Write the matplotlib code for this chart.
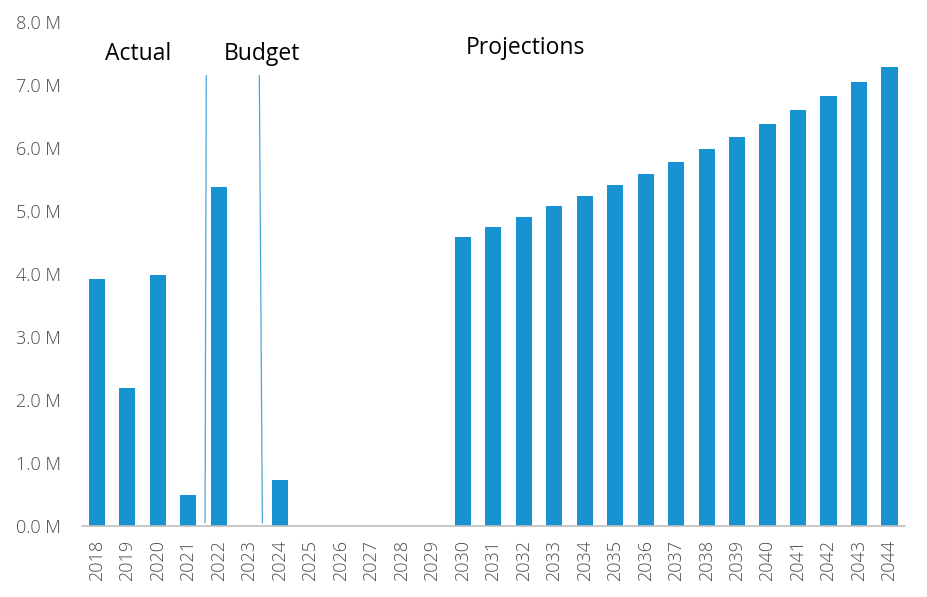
import matplotlib
matplotlib.use("Agg")
import matplotlib.pyplot as plt
from matplotlib.ticker import FuncFormatter

plt.rcParams["font.family"] = ["Open Sans", "DejaVu Sans"]

anos = [str(a) for a in range(2018, 2045)]
valores = [
    3.92, 2.19, 3.98, 0.49, 5.38, 0.0, 0.73,
    0.0, 0.0, 0.0, 0.0, 0.0,
    4.59, 4.75, 4.90, 5.08, 5.24, 5.41, 5.59, 5.78, 5.98,
    6.17, 6.38, 6.60, 6.83, 7.05, 7.29,
]  # milhoes

rotulos = ["Actual", "Budget", "Projections"]
rotulos_x = [1.35, 5.43, 14.05]
rotulos_y = [7.50, 7.50, 7.59]

# divisorias entre periodos (posicao no eixo x, topo e base, em milhoes)
divisorias = [((3.59, 3.55), (7.15, 0.05)), ((5.33, 5.43), (7.15, 0.05))]

AZUL = "#1793d1"
CINZA = "#4a4a4a"

fig = plt.figure(figsize=(9.27, 5.97), dpi=100)
ax = fig.add_axes([0.088, 0.119, 0.888, 0.844])

x = list(range(len(anos)))
ax.bar(x, valores, width=0.53, color=AZUL, zorder=2)

for (xs, ys) in divisorias:
    ax.plot(xs, ys, color="#4aa8dc", linewidth=0.9, zorder=3)

for txt, tx, ty in zip(rotulos, rotulos_x, rotulos_y):
    ax.text(tx, ty, txt, ha="center", va="center", fontsize=16.5, color="black")

ax.set_xlim(-0.5, len(anos) - 0.5)
ax.set_ylim(0, 8)
ax.set_yticks([0, 1, 2, 3, 4, 5, 6, 7, 8])
ax.yaxis.set_major_formatter(FuncFormatter(lambda v, p: "%.1f M" % v))
ax.set_xticks(x)
ax.set_xticklabels(anos, rotation=90)

for lado in ["top", "right", "left"]:
    ax.spines[lado].set_visible(False)
ax.spines["bottom"].set_color("#bfbfbf")
ax.spines["bottom"].set_linewidth(1.2)

ax.tick_params(axis="both", length=0, labelsize=13, colors=CINZA)
ax.tick_params(axis="y", pad=15)
ax.tick_params(axis="x", pad=10)
for lbl in ax.get_xticklabels() + ax.get_yticklabels():
    lbl.set_fontweight("light")

fig.savefig("out.png", dpi=100)
